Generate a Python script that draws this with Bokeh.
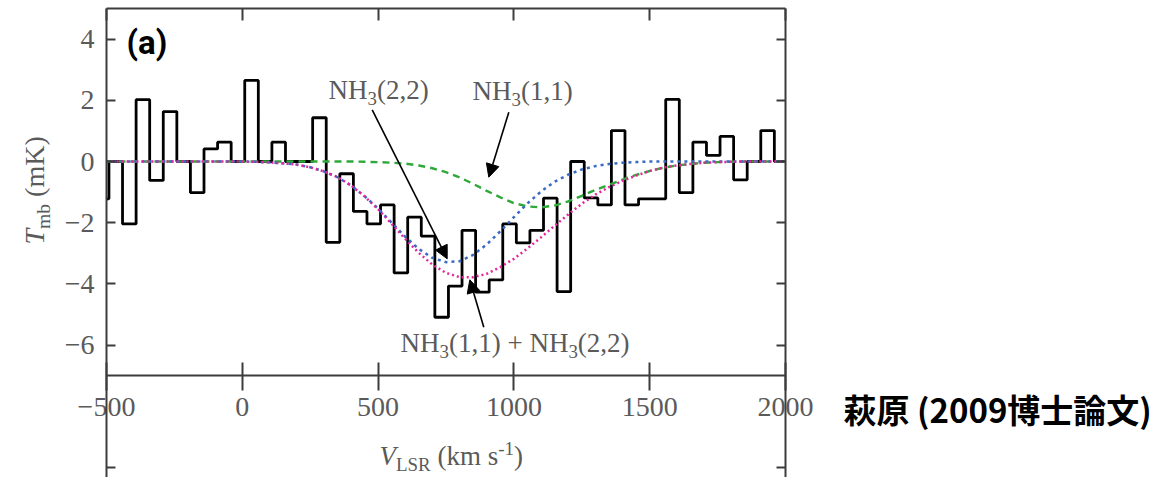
from math import pi
import numpy as np
from bokeh.plotting import figure
from bokeh.models import Range1d, LinearAxis, FixedTicker, Label, Arrow, NormalHead
from bokeh.embed import file_html
from bokeh.resources import INLINE

# ---------------- data ----------------
# observed spectrum: 50 km/s channels, channel centres
chan_v = np.arange(-516, 2001, 50)
chan_T = [-1.22, 0.0, -2.04, 2.02, -0.62, 1.63, 0.0, -1.02, 0.41, 0.63,
          0.0, 2.65, 0.0, 0.63, 0.0, 0.0, 1.43, -2.64, -0.40, -1.63,
          -2.04, -1.42, -3.64, -1.82, -2.44, -5.09, -4.07, -2.25, -4.27, -3.87,
          -2.04, -2.66, -2.25, -1.20, -4.25, 0.0, -1.19, -1.42, 1.01, -1.42,
          -1.22, -1.22, 2.03, -1.02, 0.63, 0.20, 0.82, -0.60, 0.0, 1.01, 0.0]

# model curves sampled every 50 km/s
model_v = np.arange(-500, 2001, 50)
nh3_11 = [0, 0, 0, 0, 0, 0, 0, 0, 0, 0, 0, 0, 0, 0, 0, 0, 0, 0,
          0.0, -0.01, -0.02, -0.04, -0.07, -0.13, -0.22, -0.35, -0.52, -0.73,
          -0.96, -1.17, -1.36, -1.47, -1.50, -1.44, -1.30, -1.12, -0.93, -0.76,
          -0.59, -0.44, -0.31, -0.20, -0.13, -0.08, -0.04, -0.02, -0.01,
          0, 0, 0, 0]
nh3_22 = [0, 0, 0, 0, 0, 0, 0, 0, 0, 0, 0,
          -0.01, -0.03, -0.06, -0.10, -0.19, -0.32, -0.51, -0.78, -1.13, -1.54,
          -2.00, -2.46, -2.86, -3.15, -3.29, -3.26, -3.05, -2.71, -2.28, -1.82,
          -1.37, -0.98, -0.66, -0.43, -0.26, -0.15, -0.08, -0.04, -0.02,
          0, 0, 0, 0, 0, 0, 0, 0, 0, 0, 0]
nh3_sum = [0, 0, 0, 0, 0, 0, 0, 0, 0, 0, 0,
           -0.01, -0.03, -0.06, -0.10, -0.19, -0.32, -0.51, -0.78, -1.14, -1.56,
           -2.04, -2.53, -2.99, -3.37, -3.64, -3.78, -3.78, -3.67, -3.45, -3.18,
           -2.84, -2.48, -2.10, -1.73, -1.38, -1.08, -0.84, -0.63, -0.46, -0.31,
           -0.20, -0.13, -0.08, -0.04, -0.02, -0.01,
           0, 0, 0, 0]

x_ticks = [-500, 0, 500, 1000, 1500, 2000]
x_tick_labels = ["\u2212500", "0", "500", "1000", "1500", "2000"]
y_ticks = [-6, -4, -2, 0, 2, 4]
y_tick_labels = ["\u22126", "\u22124", "\u22122", "0", "2", "4"]
extra_y_tick = -10        # tick of the (cut) panel below

# ---------------- layout ----------------
W, H = 1174, 477
FL, FR, FT = 106, 785, 8        # px of x=-500, x=2000, y=5
X0, X1 = -500.0, 2000.0
Y_TOP = 5.0
PX_PER_Y = 30.6
AXIS_Y = -7.0

AX = "#3c3c3c"
GRAY = "#5a5a5a"
SERIF = "Liberation Serif"


def dx(px):
    return X0 + (px - FL) * (X1 - X0) / (FR - FL)


def dy(py):
    return Y_TOP - (py - FT) / PX_PER_Y


Y_BOT = dy(H)

p = figure(width=W, height=H, x_range=Range1d(dx(0), dx(W)), y_range=Range1d(dy(H), dy(0)),
           output_backend="svg", toolbar_location=None,
           x_axis_location=None, y_axis_location=None,
           min_border_left=0, min_border_right=0, min_border_top=0, min_border_bottom=0)
p.outline_line_color = None
p.xgrid.visible = False
p.ygrid.visible = False
p.background_fill_color = "white"
p.border_fill_color = "white"

all_y_ticks = [extra_y_tick] + y_ticks
y_over = {extra_y_tick: ""}
y_over.update({t: l for t, l in zip(y_ticks, y_tick_labels)})
x_over = {t: l for t, l in zip(x_ticks, x_tick_labels)}

common = dict(axis_line_color=AX, axis_line_width=2, major_tick_line_color=AX,
              major_tick_line_width=2, minor_tick_in=0, minor_tick_out=0,
              major_label_text_font=SERIF, major_label_text_font_size="28px",
              major_label_text_color=GRAY)

xb = LinearAxis(fixed_location=AXIS_Y, bounds=(X0, X1), ticker=FixedTicker(ticks=x_ticks),
                major_label_overrides=x_over, major_tick_in=13, major_tick_out=15,
                major_label_standoff=7, **common)
p.add_layout(xb, "below")

yl = LinearAxis(fixed_location=X0, bounds=(Y_BOT, Y_TOP), ticker=FixedTicker(ticks=all_y_ticks),
                major_label_overrides=y_over, major_tick_in=9, major_tick_out=0,
                major_label_standoff=12, **common)
p.add_layout(yl, "left")

c2 = dict(common)
c2["major_label_text_color"] = None
yr = LinearAxis(fixed_location=X1, bounds=(Y_BOT, Y_TOP), ticker=FixedTicker(ticks=all_y_ticks),
                major_tick_in=9, major_tick_out=0, **c2)
p.add_layout(yr, "right")

xt = LinearAxis(fixed_location=Y_TOP, bounds=(X0, X1), ticker=FixedTicker(ticks=x_ticks),
                major_tick_in=12, major_tick_out=0, **c2)
p.add_layout(xt, "above")

# ---------------- data marks ----------------
edges = np.append(chan_v - 25, chan_v[-1] + 25)
vals = list(chan_T) + [chan_T[-1]]
# keep the histogram inside the axes box
edges = np.clip(edges, X0, X1)
p.step(edges, vals, mode="after", line_color="black", line_width=2.8)

p.line(model_v, nh3_11, line_color="#2fa83a", line_width=2.4, line_dash="7 5")
p.line(model_v, nh3_22, line_color="#3a6bc4", line_width=2.5, line_dash="3 4")
p.line(model_v, nh3_sum, line_color="#e8259b", line_width=2.5, line_dash="2 3")

# ---------------- texts ----------------
WID = {'N': 722, 'H': 722, '(': 333, ')': 333, '1': 500, '2': 500, '3': 500, ',': 250,
       ' ': 250, '+': 564, 'k': 500, 'm': 778, 's': 389, 'b': 500, 'K': 722, 'L': 611,
       'S': 556, 'R': 667, '-': 333, 'V': 611, 'T': 556}
BASE_FIX = 0.37   # label baseline correction (fraction of font size)


def rich(pieces, x_px, y_px, size, rotate=False, color=GRAY):
    pos = 0.0
    for txt, kind in pieces:
        s = size * 0.7 if kind in ("sub", "sup") else size
        w = sum(WID.get(c, 500) for c in txt) / 1000.0 * s
        if kind == "gap":
            pos += w
            continue
        shift = 0.22 * size if kind == "sub" else (-0.38 * size if kind == "sup" else 0.0)
        shift -= BASE_FIX * s
        if rotate:
            px, py = x_px + shift, y_px - pos
        else:
            px, py = x_px + pos, y_px + shift
        p.add_layout(Label(x=dx(px), y=dy(py), text=txt, angle=pi / 2 if rotate else 0.0,
                           text_font=SERIF, text_font_size=f"{s:.1f}px",
                           text_font_style="italic" if kind == "it" else "normal",
                           text_color=color, text_align="left", text_baseline="alphabetic"))
        pos += w


rich([("NH", "n"), ("3", "sub"), ("(2,2)", "n")], 328, 99, 27)
rich([("NH", "n"), ("3", "sub"), ("(1,1)", "n")], 472, 100, 27)
rich([("NH", "n"), ("3", "sub"), ("(1,1)", "n"), (" ", "gap"), ("+", "n"), (" ", "gap"),
      ("NH", "n"), ("3", "sub"), ("(2,2)", "n")], 400, 352, 27)
rich([("V", "it"), ("LSR", "sub"), (" ", "gap"), ("(km s", "n"), ("-1", "sup"), (")", "n")],
     379, 465, 27)
rich([("T", "it"), ("mb", "sub"), (" ", "gap"), ("(mK)", "n")], 44, 244, 28, rotate=True)

p.add_layout(Label(x=dx(126), y=dy(54 - BASE_FIX * 33), text="(a)", text_font="Roboto",
                   text_font_style="bold", text_font_size="33px", text_color="black",
                   text_align="left", text_baseline="alphabetic"))
p.add_layout(Label(x=dx(843), y=dy(421 - BASE_FIX * 33), text="萩原 (2009博士論文)",
                   text_font="Noto Sans CJK JP", text_font_size="33px", text_color="black",
                   text_font_style="bold",
                   text_align="left", text_baseline="alphabetic"))

# ---------------- arrows ----------------
for (sx, sy, ex, ey) in [(371.7, 109.3, 446.7, 258.3),
                         (508.3, 111.7, 488.3, 176.7),
                         (483.3, 326.7, 469.3, 279.3)]:
    p.add_layout(Arrow(x_start=dx(sx), y_start=dy(sy), x_end=dx(ex), y_end=dy(ey),
                       line_color="black", line_width=1.6,
                       end=NormalHead(size=13, fill_color="black", line_color="black",
                                      line_width=1)))

open("out.html", "w").write(file_html(p, INLINE))
